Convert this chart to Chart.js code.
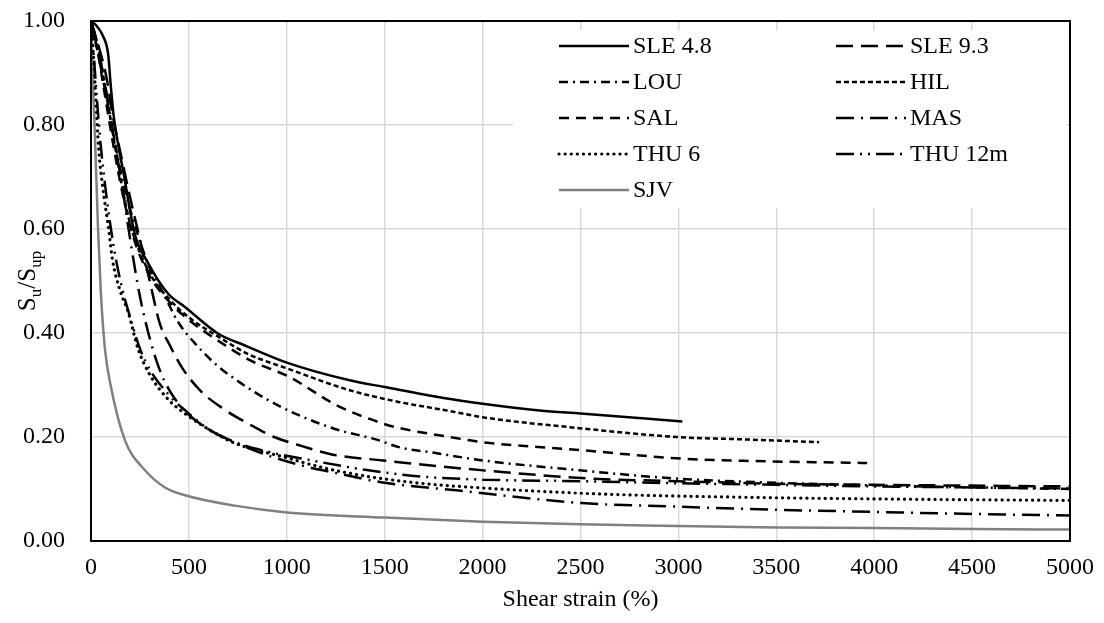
<!DOCTYPE html>
<html>
<head>
<meta charset="utf-8">
<script src="https://cdn.jsdelivr.net/npm/chart.js@4.4.1/dist/chart.umd.min.js"></script>
<style>
  html, body { margin: 0; padding: 0; background: #fff; }
  #wrap { width: 1104px; height: 623px; position: relative; }
</style>
</head>
<body>
<div id="wrap"><canvas id="chart"></canvas></div>
<script>
// tick values
const xTickValues = [0, 500, 1000, 1500, 2000, 2500, 3000, 3500, 4000, 4500, 5000];
const yTickValues = [0, 0.2, 0.4, 0.6, 0.8, 1.0];

// series
const sle48X = [0, 30, 60, 88, 100, 115, 140, 165, 224, 291, 393, 480, 648, 786, 1000, 1321, 1500, 1800, 2000, 2291, 2500, 3020];
const sle48Y = [1.00, 0.99, 0.972, 0.935, 0.88, 0.82, 0.76, 0.71, 0.59, 0.535, 0.476, 0.45, 0.399, 0.376, 0.343, 0.309, 0.296, 0.275, 0.264, 0.251, 0.245, 0.23];

const sle93X = [0, 40, 80, 110, 160, 200, 250, 300, 350, 403, 464, 556, 673, 811, 929, 1082, 1235, 1490, 1878, 2561, 3000, 3500, 4000, 5000];
const sle93Y = [1.0, 0.95, 0.89, 0.82, 0.73, 0.66, 0.58, 0.50, 0.42, 0.376, 0.334, 0.29, 0.255, 0.224, 0.201, 0.182, 0.166, 0.155, 0.14, 0.12, 0.115, 0.11, 0.108, 0.105];

const louX = [0, 40, 80, 120, 170, 230, 300, 370, 440, 531, 643, 760, 900, 1031, 1250, 1459, 1577, 1745, 2000, 2495, 2990, 3500, 4000, 4500, 5000];
const louY = [1.0, 0.93, 0.85, 0.77, 0.68, 0.60, 0.525, 0.476, 0.424, 0.38, 0.338, 0.305, 0.272, 0.247, 0.215, 0.195, 0.18, 0.17, 0.155, 0.136, 0.12, 0.112, 0.107, 0.103, 0.10];

const hilX = [0, 30, 60, 100, 150, 200, 300, 400, 500, 650, 800, 1000, 1321, 1577, 1832, 2000, 2495, 2990, 3362, 3719];
const hilY = [1.0, 0.96, 0.90, 0.81, 0.70, 0.61, 0.515, 0.465, 0.43, 0.393, 0.36, 0.332, 0.29, 0.267, 0.25, 0.238, 0.217, 0.20, 0.195, 0.19];

const salX = [0, 30, 70, 110, 160, 220, 300, 400, 500, 650, 811, 1015, 1255, 1490, 1577, 1832, 2000, 2495, 2990, 3362, 3964];
const salY = [1.0, 0.95, 0.86, 0.77, 0.67, 0.58, 0.51, 0.46, 0.425, 0.385, 0.348, 0.315, 0.261, 0.226, 0.217, 0.20, 0.19, 0.175, 0.159, 0.154, 0.15];

const masX = [0, 40, 80, 120, 160, 200, 250, 300, 350, 400, 480, 600, 735, 900, 1100, 1235, 1500, 1878, 2505, 3000, 3500, 4000, 4500, 5000];
const masY = [1.0, 0.94, 0.86, 0.77, 0.68, 0.58, 0.47, 0.39, 0.33, 0.29, 0.25, 0.215, 0.19, 0.165, 0.143, 0.132, 0.112, 0.097, 0.073, 0.066, 0.06, 0.056, 0.052, 0.049];

const thu6X = [0, 10, 25, 40, 60, 90, 110, 150, 190, 240, 300, 400, 480, 600, 735, 990, 1174, 1400, 1684, 2000, 2561, 3362, 4000, 5000];
const thu6Y = [1.0, 0.95, 0.85, 0.75, 0.68, 0.60, 0.54, 0.48, 0.44, 0.37, 0.32, 0.27, 0.245, 0.215, 0.188, 0.161, 0.142, 0.125, 0.111, 0.102, 0.091, 0.084, 0.081, 0.078];

const thu12X = [0, 15, 30, 50, 80, 110, 150, 200, 250, 300, 400, 500, 600, 735, 900, 1097, 1400, 1684, 2000, 2500, 3000, 3500, 4000, 4500, 5000];
const thu12Y = [1.0, 0.93, 0.85, 0.76, 0.66, 0.58, 0.50, 0.43, 0.37, 0.33, 0.28, 0.245, 0.215, 0.19, 0.172, 0.157, 0.137, 0.124, 0.118, 0.115, 0.111, 0.108, 0.105, 0.103, 0.101];

const sjvX = [0, 10, 20, 36, 50, 71, 100, 173, 276, 378, 480, 735, 1000, 1500, 2000, 2500, 3000, 3500, 4000, 4500, 5000];
const sjvY = [1.0, 0.88, 0.78, 0.60, 0.48, 0.37, 0.30, 0.194, 0.136, 0.103, 0.088, 0.068, 0.055, 0.045, 0.037, 0.032, 0.029, 0.026, 0.025, 0.023, 0.022];

const FONT = '"Liberation Serif", "Times New Roman", serif';

const toPoints = (xs, ys) => xs.map((x, i) => ({ x: x, y: ys[i] }));

const series = [
    { label: 'SLE 4.8', xs: sle48X, ys: sle48Y, color: '#000', dash: [], width: 2.5, cap: 'butt' },
    { label: 'SLE 9.3', xs: sle93X, ys: sle93Y, color: '#000', dash: [17, 8], width: 2.5, cap: 'butt' },
    { label: 'LOU', xs: louX, ys: louY, color: '#000', dash: [9, 5, 2, 5], width: 2.5, cap: 'butt' },
    { label: 'HIL', xs: hilX, ys: hilY, color: '#000', dash: [5, 3], width: 2.5, cap: 'butt' },
    { label: 'SAL', xs: salX, ys: salY, color: '#000', dash: [10, 7], width: 2.5, cap: 'butt' },
    { label: 'MAS', xs: masX, ys: masY, color: '#000', dash: [18, 7, 2, 7], width: 2.5, cap: 'butt' },
    { label: 'THU 6', xs: thu6X, ys: thu6Y, color: '#000', dash: [0.1, 6], width: 3.2, cap: 'round' },
    { label: 'THU 12m', xs: thu12X, ys: thu12Y, color: '#000', dash: [18, 6, 2, 6, 2, 6], width: 2.5, cap: 'butt' },
    { label: 'SJV', xs: sjvX, ys: sjvY, color: '#808080', dash: [], width: 2.5, cap: 'butt' }
];

const datasets = series.map(s => ({
    label: s.label,
    data: toPoints(s.xs, s.ys),
    showLine: true,
    borderColor: s.color,
    backgroundColor: s.color,
    borderWidth: s.width,
    borderDash: s.dash,
    borderCapStyle: s.cap,
    pointRadius: 0,
    cubicInterpolationMode: 'monotone',
    fill: false
}));

// legend box, axis titles and frame
const decor = {
    id: 'decor',
    beforeDatasetsDraw(chart) {
        const ctx = chart.ctx;
        ctx.save();
        ctx.fillStyle = '#fff';
        ctx.fillRect(513, 30, 553, 178);

        ctx.font = '24px ' + FONT;
        ctx.textBaseline = 'middle';
        ctx.fillStyle = '#000';
        chart.data.datasets.forEach((ds, i) => {
            const col = i % 2;
            const row = Math.floor(i / 2);
            const lx = col === 0 ? 559 : 836;
            const ly = 46 + row * 36;
            ctx.beginPath();
            ctx.strokeStyle = ds.borderColor;
            ctx.lineWidth = ds.borderWidth;
            ctx.lineCap = ds.borderCapStyle;
            ctx.setLineDash(ds.borderDash);
            ctx.moveTo(lx, ly);
            ctx.lineTo(lx + 70, ly);
            ctx.stroke();
            ctx.setLineDash([]);
            ctx.fillText(ds.label, lx + 74, ly + 1);
        });
        ctx.restore();
    },
    afterDraw(chart) {
        const ctx = chart.ctx;
        const a = chart.chartArea;
        ctx.save();
        ctx.strokeStyle = '#000';
        ctx.lineWidth = 2;
        ctx.setLineDash([]);
        ctx.strokeRect(a.left, a.top, a.right - a.left, a.bottom - a.top);

        // x title
        ctx.fillStyle = '#000';
        ctx.font = '24px ' + FONT;
        ctx.textAlign = 'center';
        ctx.textBaseline = 'alphabetic';
        ctx.fillText('Shear strain (%)', (a.left + a.right) / 2, 606);

        // y title: Su/Sup
        const big = '25px ' + FONT;
        const small = '17px ' + FONT;
        const parts = [['S', big, 0], ['u', small, 6], ['/', big, 0], ['S', big, 0], ['up', small, 6]];
        let total = 0;
        parts.forEach(p => { ctx.font = p[1]; total += ctx.measureText(p[0]).width; });
        ctx.translate(27, (a.top + a.bottom) / 2);
        ctx.rotate(-Math.PI / 2);
        ctx.textAlign = 'left';
        let x = -total / 2;
        parts.forEach(p => {
            ctx.font = p[1];
            ctx.fillText(p[0], x, 8 + p[2]);
            x += ctx.measureText(p[0]).width;
        });
        ctx.restore();
    }
};

new Chart(document.getElementById('chart'), {
    type: 'scatter',
    data: { datasets: datasets },
    options: {
        responsive: true,
        maintainAspectRatio: false,
        animation: false,
        layout: { padding: { top: 21, right: 34, left: 0, bottom: 0 } },
        plugins: {
            legend: { display: false },
            tooltip: { enabled: false }
        },
        scales: {
            x: {
                type: 'linear',
                min: 0,
                max: 5000,
                afterBuildTicks: scale => { scale.ticks = xTickValues.map(v => ({ value: v })); },
                afterFit: scale => { scale.height = 82; scale.paddingLeft = 0; scale.paddingRight = 0; },
                grid: { color: '#d9d9d9', lineWidth: 1.5, drawTicks: false },
                border: { display: false },
                ticks: {
                    color: '#000',
                    padding: 12,
                    maxRotation: 0,
                    font: { family: FONT, size: 24 },
                    callback: v => String(v)
                }
            },
            y: {
                type: 'linear',
                min: 0,
                max: 1,
                afterBuildTicks: scale => { scale.ticks = yTickValues.map(v => ({ value: v })); },
                afterFit: scale => { scale.width = 91; scale.paddingTop = 0; scale.paddingBottom = 0; },
                grid: { color: '#d9d9d9', lineWidth: 1.5, drawTicks: false },
                border: { display: false },
                ticks: {
                    color: '#000',
                    padding: 26,
                    font: { family: FONT, size: 24 },
                    callback: v => Number(v).toFixed(2)
                }
            }
        }
    },
    plugins: [decor]
});
</script>
</body>
</html>
